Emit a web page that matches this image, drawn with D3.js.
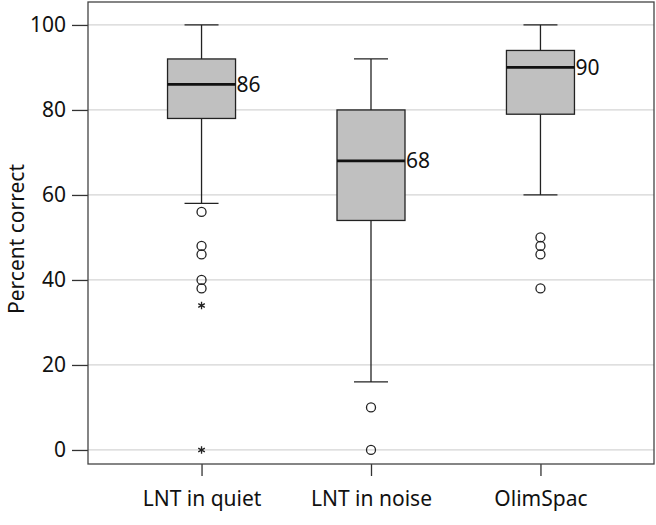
<!DOCTYPE html>
<html>
<head>
<meta charset="utf-8">
<script src="https://cdn.jsdelivr.net/npm/d3@7"></script>
<style>
  body { margin: 0; background: #fff; }
  text { font-family: "Noto Sans", "Open Sans", sans-serif; fill: #111; }
</style>
</head>
<body>
<svg id="chart"></svg>
<script>
// boxplot data
const groups = ["LNT in quiet", "LNT in noise", "OlimSpac"];
const whiskerLow = [58, 16, 60];
const q1 = [78, 54, 79];
const medians = [86, 68, 90];
const q3 = [92, 80, 94];
const whiskerHigh = [100, 92, 100];
const outliers = [[56, 48, 46, 40, 38], [10, 0], [50, 48, 46, 38]];
const extremes = [[34, 0], [], []];
const yTicks = [0, 20, 40, 60, 80, 100];

var margin = {top: 2, right: 2, bottom: 61, left: 88},
  width = 656 - margin.left - margin.right,
  height = 525 - margin.top - margin.bottom;

const fontSize = "21px";

const svg = d3.select("#chart")
  .attr("width", width + margin.left + margin.right)
  .attr("height", height + margin.top + margin.bottom);

const g = svg.append("g").attr("transform", `translate(${margin.left},${margin.top})`);

const x = d3.scalePoint().domain(groups).range([0, width]).padding(0.67);
const y = d3.scaleLinear().domain([-3.3, 105.4]).range([height, 0]);

// grid
g.selectAll(".grid").data(yTicks).enter().append("line")
  .attr("x1", 0).attr("x2", width)
  .attr("y1", d => y(d)).attr("y2", d => y(d))
  .attr("stroke", "#d4d4d4").attr("stroke-width", 1.3);

// axes
const yAxis = g.append("g").call(d3.axisLeft(y).tickValues(yTicks).tickSize(16).tickPadding(6));
yAxis.select(".domain").remove();
yAxis.selectAll("text").style("font-size", fontSize);
yAxis.selectAll("line").attr("stroke", "#333").attr("stroke-width", 1.3);

const xAxis = g.append("g").attr("transform", `translate(0,${height})`)
  .call(d3.axisBottom(x).tickSize(12).tickPadding(15));
xAxis.select(".domain").remove();
xAxis.selectAll("text").style("font-size", fontSize);
xAxis.selectAll("line").attr("stroke", "#333").attr("stroke-width", 1.3);

// frame
g.append("rect").attr("width", width).attr("height", height)
  .attr("fill", "none").attr("stroke", "#444").attr("stroke-width", 1.3);

svg.append("text")
  .attr("transform", `translate(24,${margin.top + height / 2 + 6}) rotate(-90)`)
  .attr("text-anchor", "middle")
  .style("font-size", fontSize)
  .text("Percent correct");

const boxW = 68, capW = 34;

groups.forEach((name, i) => {
  const cx = x(name);
  const bg = g.append("g");
  // whiskers
  bg.append("line").attr("x1", cx).attr("x2", cx)
    .attr("y1", y(whiskerHigh[i])).attr("y2", y(q3[i]))
    .attr("stroke", "#222").attr("stroke-width", 1.3);
  bg.append("line").attr("x1", cx).attr("x2", cx)
    .attr("y1", y(q1[i])).attr("y2", y(whiskerLow[i]))
    .attr("stroke", "#222").attr("stroke-width", 1.3);
  [whiskerHigh[i], whiskerLow[i]].forEach(v => {
    bg.append("line").attr("x1", cx - capW / 2).attr("x2", cx + capW / 2)
      .attr("y1", y(v)).attr("y2", y(v))
      .attr("stroke", "#222").attr("stroke-width", 1.3);
  });
  // box
  bg.append("rect")
    .attr("x", cx - boxW / 2).attr("width", boxW)
    .attr("y", y(q3[i])).attr("height", y(q1[i]) - y(q3[i]))
    .attr("fill", "#c0c0c0").attr("stroke", "#222").attr("stroke-width", 1.3);
  bg.append("line").attr("x1", cx - boxW / 2).attr("x2", cx + boxW / 2)
    .attr("y1", y(medians[i])).attr("y2", y(medians[i]))
    .attr("stroke", "#111").attr("stroke-width", 2.8);
  bg.append("text")
    .attr("x", cx + boxW / 2 + 1).attr("y", y(medians[i]))
    .attr("dy", "0.35em")
    .style("font-size", fontSize)
    .text(medians[i]);
  // outliers
  bg.selectAll("circle").data(outliers[i]).enter().append("circle")
    .attr("cx", cx).attr("cy", d => y(d)).attr("r", 4.5)
    .attr("fill", "none").attr("stroke", "#222").attr("stroke-width", 1.3);
  bg.selectAll(".star").data(extremes[i]).enter().append("path")
    .attr("class", "star")
    .attr("transform", d => `translate(${cx},${y(d)})`)
    .attr("d", d3.symbol(d3.symbolAsterisk, 40))
    .attr("stroke", "#222").attr("stroke-width", 1.3);
});
</script>
</body>
</html>
